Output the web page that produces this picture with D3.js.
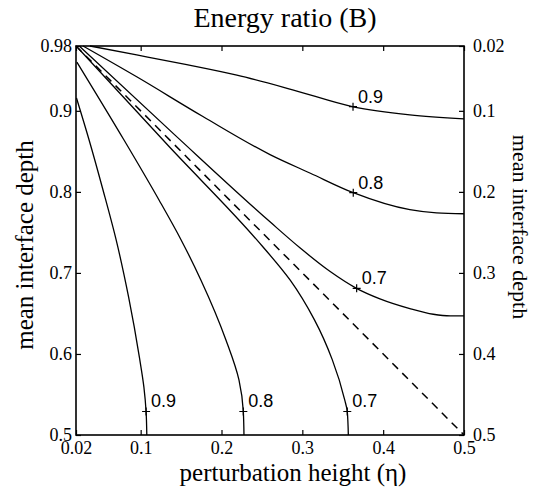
<!DOCTYPE html>
<html>
<head>
<meta charset="utf-8">
<script src="https://cdn.jsdelivr.net/npm/d3@7"></script>
<style>
  body { margin: 0; background: #fff; }
  svg { display: block; }
</style>
</head>
<body>
<div id="chart"></div>
<script>
// contour lines, [perturbation height, mean interface depth]
var upper09 = [ [0.0373, 0.98], [0.0951, 0.969], [0.157, 0.957], [0.219, 0.944], [0.288, 0.926],
                [0.363, 0.905], [0.433, 0.895], [0.50, 0.890] ];
var upper08 = [ [0.0287, 0.98], [0.0951, 0.942], [0.177, 0.893], [0.26, 0.846], [0.31, 0.823],
                [0.363, 0.799], [0.433, 0.778], [0.466, 0.774], [0.50, 0.773] ];
var upper07 = [ [0.025, 0.979], [0.1425, 0.870], [0.26, 0.763], [0.297, 0.731], [0.334, 0.702],
                [0.367, 0.681], [0.396, 0.668], [0.433, 0.656], [0.462, 0.649], [0.483, 0.647], [0.50, 0.647] ];
var lower07 = [ [0.0225, 0.9775], [0.136, 0.855], [0.2435, 0.741], [0.285, 0.691], [0.315, 0.642],
                [0.337, 0.593], [0.3525, 0.543], [0.3556, 0.529], [0.3569, 0.50] ];
var lower08 = [ [0.0212, 0.960], [0.0794, 0.864], [0.1227, 0.790], [0.1499, 0.741], [0.1746, 0.691],
                [0.2056, 0.617], [0.2216, 0.568], [0.227, 0.529], [0.2278, 0.50] ];
var lower09 = [ [0.0206, 0.9158], [0.0362, 0.864], [0.0535, 0.802], [0.0696, 0.741], [0.0851, 0.670],
                [0.0984, 0.596], [0.104, 0.559], [0.1067, 0.529], [0.1076, 0.50] ];
var diagonal = [ [0.02, 0.98], [0.5, 0.5] ];

var upperContours = [ upper09, upper08, upper07 ];
var lowerContours = [ lower07, lower08, lower09 ];

// label positions on the contours
var labelText = [ '0.9', '0.8', '0.7', '0.9', '0.8', '0.7' ];
var labelPos = [ [0.3627, 0.9051], [0.363, 0.799], [0.3672, 0.681],
                 [0.1067, 0.529], [0.227, 0.529], [0.3556, 0.529] ];

var xTicks = [ 0.02, 0.1, 0.2, 0.3, 0.4, 0.5 ];
var xTickLabels = [ '0.02', '0.1', '0.2', '0.3', '0.4', '0.5' ];
var yTicks = [ 0.5, 0.6, 0.7, 0.8, 0.9, 0.98 ];
var yTickLabels = [ '0.5', '0.6', '0.7', '0.8', '0.9', '0.98' ];
var yRTicks = [ 0.02, 0.1, 0.2, 0.3, 0.4, 0.5 ];
var yRTickLabels = [ '0.02', '0.1', '0.2', '0.3', '0.4', '0.5' ];

var serif = "'Liberation Serif', 'Times New Roman', serif",
    sans = "'Liberation Sans', Arial, sans-serif";

var width = 533,
    height = 495,
    margin = { top: 46, right: 69, bottom: 60, left: 76 },
    innerW = width - margin.left - margin.right,
    innerH = height - margin.top - margin.bottom;

var svg = d3.select('#chart').append('svg')
  .attr('width', width)
  .attr('height', height);

var x = d3.scaleLinear().domain([0.02, 0.5]).range([0, innerW]),
    y = d3.scaleLinear().domain([0.5, 0.98]).range([innerH, 0]),
    yR = d3.scaleLinear().domain([0.02, 0.5]).range([0, innerH]);

var g = svg.append('g')
  .attr('transform', 'translate(' + margin.left + ',' + margin.top + ')');

function fmt(values, labels) {
  return function(d) { return labels[values.indexOf(d)]; };
}

// axes, matlab style ticks pointing inwards
var axes = [];

axes.push(g.append('g')
  .attr('transform', 'translate(0,' + innerH + ')')
  .call(d3.axisBottom(x).tickValues(xTicks).tickFormat(fmt(xTicks, xTickLabels))
    .tickSizeInner(-5).tickSizeOuter(0).tickPadding(6)));

axes.push(g.append('g')
  .call(d3.axisTop(x).tickValues(xTicks).tickFormat('')
    .tickSizeInner(-5).tickSizeOuter(0)));

axes.push(g.append('g')
  .call(d3.axisLeft(y).tickValues(yTicks).tickFormat(fmt(yTicks, yTickLabels))
    .tickSizeInner(-5).tickSizeOuter(0).tickPadding(4)));

axes.push(g.append('g')
  .attr('transform', 'translate(' + innerW + ',0)')
  .call(d3.axisRight(yR).tickValues(yRTicks).tickFormat(fmt(yRTicks, yRTickLabels))
    .tickSizeInner(-5).tickSizeOuter(0).tickPadding(9)));

axes.forEach(function(a) {
  a.attr('font-family', serif).attr('font-size', 18);
  a.select('.domain').remove();
  a.selectAll('.tick line').attr('stroke-width', 1.2);
  a.selectAll('.tick text').attr('font-family', serif).attr('fill', '#000');
});

g.append('rect')
  .attr('width', innerW)
  .attr('height', innerH)
  .attr('fill', 'none')
  .attr('stroke', '#000')
  .attr('stroke-width', 1.6);

var lineX = d3.line()
  .x(function(d) { return x(d[0]); })
  .y(function(d) { return y(d[1]); })
  .curve(d3.curveMonotoneX);

var lineY = d3.line()
  .x(function(d) { return x(d[0]); })
  .y(function(d) { return y(d[1]); })
  .curve(d3.curveMonotoneY);

g.selectAll('.upper')
  .data(upperContours)
  .enter().append('path')
  .attr('class', 'upper')
  .attr('d', lineX)
  .attr('fill', 'none')
  .attr('stroke', '#000')
  .attr('stroke-width', 1.3);

g.selectAll('.lower')
  .data(lowerContours)
  .enter().append('path')
  .attr('class', 'lower')
  .attr('d', lineY)
  .attr('fill', 'none')
  .attr('stroke', '#000')
  .attr('stroke-width', 1.3);

g.append('path')
  .attr('d', d3.line().x(function(d) { return x(d[0]); }).y(function(d) { return y(d[1]); })(diagonal))
  .attr('fill', 'none')
  .attr('stroke', '#000')
  .attr('stroke-width', 1.5)
  .attr('stroke-dasharray', '8,6');

// label crosses
var marks = g.selectAll('.mark')
  .data(labelPos)
  .enter().append('g')
  .attr('class', 'mark')
  .attr('transform', function(d) { return 'translate(' + x(d[0]) + ',' + y(d[1]) + ')'; });

marks.append('path')
  .attr('d', 'M-4,0H4M0,-4V4')
  .attr('stroke', '#000')
  .attr('stroke-width', 1.2);

marks.append('text')
  .attr('x', 5)
  .attr('y', -4)
  .attr('font-family', sans)
  .attr('font-size', 18)
  .text(function(d, i) { return labelText[i]; });

// titles
svg.append('text')
  .attr('x', 285)
  .attr('y', 27)
  .attr('text-anchor', 'middle')
  .attr('font-family', serif)
  .attr('font-size', 28)
  .text('Energy ratio (B)');

svg.append('text')
  .attr('x', 293)
  .attr('y', 481)
  .attr('text-anchor', 'middle')
  .attr('font-family', serif)
  .attr('font-size', 25)
  .text('perturbation height (\u03b7)');

svg.append('text')
  .attr('transform', 'translate(33,245) rotate(-90)')
  .attr('text-anchor', 'middle')
  .attr('font-family', serif)
  .attr('font-size', 25)
  .text('mean interface depth');

svg.append('text')
  .attr('transform', 'translate(513,227) rotate(90)')
  .attr('text-anchor', 'middle')
  .attr('font-family', serif)
  .attr('font-size', 22)
  .text('mean interface depth');
</script>
</body>
</html>
